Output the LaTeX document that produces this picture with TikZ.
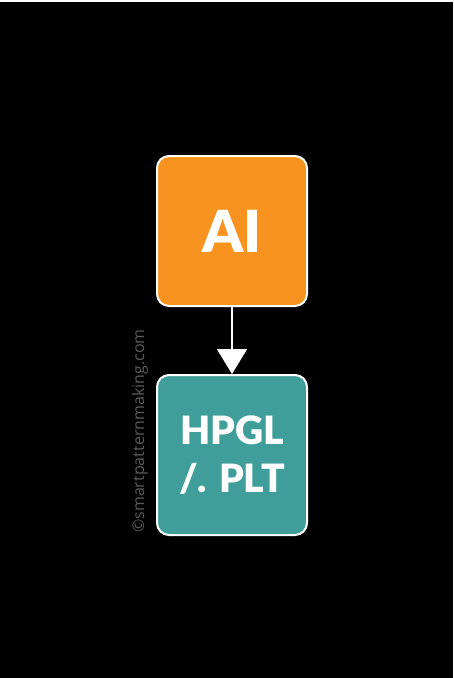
\documentclass[tikz,border=0pt]{standalone}
\usepackage{fontspec}
\setmainfont{Lato}
\newfontfamily\heavyfont{Lato}[UprightFont=* Black]
\newfontfamily\markfont{Open Sans}
\usetikzlibrary{arrows.meta,positioning}
\definecolor{aiorange}{RGB}{247,147,30}
\definecolor{pltteal}{RGB}{64,158,154}
\definecolor{markgray}{RGB}{90,90,90}

\begin{document}
\begin{tikzpicture}[x=1pt,y=-1pt,
    filebox/.style={rectangle, rounded corners=12pt, draw=white, line width=2pt, text=white, minimum width=150pt, align=center, inner sep=0pt}]
        % Background
        \fill[white] (0,0) rectangle (453,678);
        \fill[black] (0,2) rectangle (453,678);

        % File boxes
        \node[filebox, fill=aiorange, minimum height=150pt, font=\heavyfont\fontsize{58}{58}\selectfont] (ai) at (232,231) {AI};
        \node[filebox, fill=pltteal, minimum height=160pt, below=67pt of ai, font=\heavyfont\fontsize{39}{48}\selectfont] (plt) {HPGL\\/. PLT};

        % Arrow
        \draw[-{Triangle[width=30pt,length=25pt]}, white, line width=2pt] (ai) -- (plt);

        % Watermark
        \node[rotate=90, text=markgray, font=\markfont\fontsize{16}{16}\selectfont] (mark) at (140,431) {©smartpatternmaking.com};
\end{tikzpicture}
\end{document}
